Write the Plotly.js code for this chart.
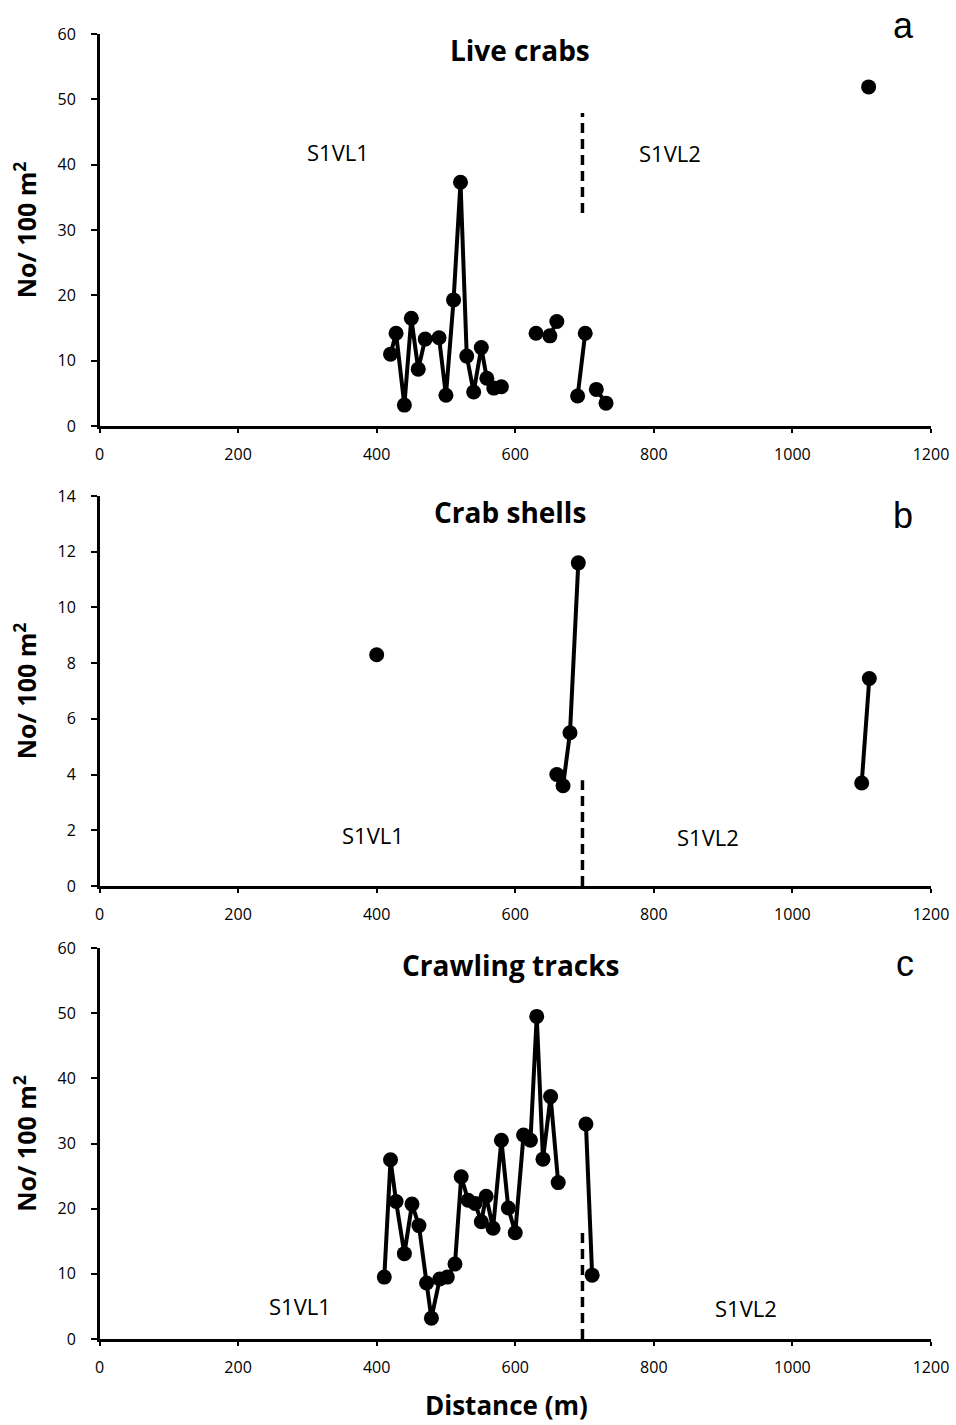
<!DOCTYPE html>
<html>
<head>
<meta charset="utf-8">
<script src="https://cdn.plot.ly/plotly-3.0.1.min.js"></script>
<style>html,body{margin:0;padding:0;background:#fff;}#chart{width:956px;height:1425px;}</style>
</head>
<body>
<div id="chart"></div>
<script>
// ---- Data (distance in m, density No/100 m2) ----
// Panel a: Live crabs (null = gap in line)
const liveX = [420, 428, 440, 450, 460, 470, 490, 500, 511, 521, 530, 540, 551, 559, 569, 580, null, 630, 650, 660, null, 690, 701, null, 717, 731, null, 1110];
const liveY = [11.0, 14.2, 3.2, 16.5, 8.7, 13.3, 13.5, 4.7, 19.3, 37.3, 10.7, 5.2, 12.0, 7.3, 5.8, 6.0, null, 14.2, 13.8, 16.0, null, 4.6, 14.2, null, 5.6, 3.5, null, 51.9];
// Panel b: Crab shells
const shellX = [400, null, 660, 669, 679, 691, null, 1100, 1111];
const shellY = [8.3, null, 4.0, 3.6, 5.5, 11.6, null, 3.7, 7.45];
// Panel c: Crawling tracks
const trackX = [411, 420, 428, 440, 451, 461, 472, 479, 491, 502, 513, 522, 532, 542, 551, 558, 568, 580, 590, 600, 612, 622, 631, 640, 651, 662, null, 702, 711];
const trackY = [9.5, 27.5, 21.1, 13.1, 20.7, 17.4, 8.6, 3.2, 9.2, 9.5, 11.5, 24.9, 21.3, 20.8, 18.0, 21.9, 17.0, 30.5, 20.1, 16.3, 31.3, 30.5, 49.5, 27.6, 37.2, 24.0, null, 33.0, 9.8];

// Site boundary (dashed) per panel: x and y extent
const boundaryX = 697;
const boundaryA = [32.6, 47.9];
const boundaryB = [0, 3.8];
const boundaryC = [0, 16.4];

// Titles / labels
const panelTitles = ["Live crabs", "Crab shells", "Crawling tracks"];
const panelLetters = ["a", "b", "c"];
const siteNames = ["S1VL1", "S1VL2"];
const siteLabelX = [[344, 823], [395, 878], [289, 933]];
const siteLabelY = [[42, 41.8], [1.83, 1.76], [5.1, 4.8]];
const xTitle = "Distance (m)";

const xTicks = [0, 200, 400, 600, 800, 1000, 1200];
const yTicksA = [0, 10, 20, 30, 40, 50, 60];
const yTicksB = [0, 2, 4, 6, 8, 10, 12, 14];
const yTicksC = [0, 10, 20, 30, 40, 50, 60];
const yRanges = [[0, 60], [0, 14], [0, 60]];

// ---- Layout geometry ----
const W = 956, H = 1425;
const FONT = "Open Sans, Noto Sans, sans-serif";
const xDom = [99.5 / W, 931 / W];
const panelsPx = [[34, 426], [496, 886], [948, 1339]];
const yDoms = panelsPx.map(p => [1 - p[1] / H, 1 - p[0] / H]);

const mk = {color: "#000", size: 15};
const ln = {color: "#000", width: 4};

function dataTrace(x, y, ax) {
  return {x: x, y: y, xaxis: "x" + ax, yaxis: "y" + ax, type: "scatter", mode: "lines+markers",
          connectgaps: false, marker: mk, line: ln, hoverinfo: "skip", cliponaxis: false};
}
function dashTrace(yr, ax) {
  return {x: [boundaryX, boundaryX], y: yr, xaxis: "x" + ax, yaxis: "y" + ax, type: "scatter", mode: "lines",
          line: {color: "#000", width: 3.5, dash: "10px,6px"}, hoverinfo: "skip"};
}

const traces = [
  dataTrace(liveX, liveY, ""), dashTrace(boundaryA, ""),
  dataTrace(shellX, shellY, "2"), dashTrace(boundaryB, "2"),
  dataTrace(trackX, trackY, "3"), dashTrace(boundaryC, "3")
];

function xAxis(anchor) {
  return {domain: xDom, anchor: anchor, range: [0, 1200], tickvals: xTicks, ticktext: xTicks.map(String),
    showline: true, linecolor: "#000", linewidth: 2.5, ticks: "outside", ticklen: 4, tickwidth: 2, tickcolor: "#000",
    ticklabelstandoff: 8,
    showgrid: false, zeroline: false, tickfont: {family: FONT, size: 16, color: "#000"}, fixedrange: true};
}
function yAxis(anchor, dom, range, ticks) {
  return {domain: dom, anchor: anchor, range: range, tickvals: ticks, ticktext: ticks.map(String),
    showline: true, linecolor: "#000", linewidth: 2.5, ticks: "outside", ticklen: 6, tickwidth: 2, tickcolor: "#000",
    ticklabelstandoff: 12,
    showgrid: false, zeroline: false, tickfont: {family: FONT, size: 16, color: "#000"}, fixedrange: true,
    title: {text: "<b>No/ 100 m<sup>2</sup></b>", font: {family: FONT, size: 25, color: "#000"}, standoff: 14}};
}

const annotations = [];
const axSuffix = ["", "2", "3"];
const titleY = [50, 512, 965];
const titleX = [520, 510, 510];
const letterPos = [[903, 25], [903, 515], [905, 963]];
for (let i = 0; i < 3; i++) {
  annotations.push({xref: "paper", yref: "paper", x: titleX[i] / W, y: 1 - titleY[i] / H, xanchor: "center", yanchor: "middle",
    text: "<b>" + panelTitles[i] + "</b>", showarrow: false, font: {family: FONT, size: 28, color: "#000"}});
  annotations.push({xref: "paper", yref: "paper", x: letterPos[i][0] / W, y: 1 - letterPos[i][1] / H, xanchor: "center", yanchor: "middle",
    text: panelLetters[i], showarrow: false, font: {family: "Liberation Sans, Arial, sans-serif", size: 36, color: "#000"}});
  for (let j = 0; j < 2; j++) {
    annotations.push({xref: "x" + axSuffix[i], yref: "y" + axSuffix[i], x: siteLabelX[i][j], y: siteLabelY[i][j],
      xanchor: "center", yanchor: "middle", text: siteNames[j], showarrow: false,
      font: {family: FONT, size: 22, color: "#000"}});
  }
}
annotations.push({xref: "paper", yref: "paper", x: 506 / W, y: 1 - 1405 / H, xanchor: "center", yanchor: "middle",
  text: "<b>" + xTitle + "</b>", showarrow: false, font: {family: FONT, size: 26, color: "#000"}});

const layout = {
  width: W, height: H, margin: {l: 0, r: 0, t: 0, b: 0}, paper_bgcolor: "#fff", plot_bgcolor: "#fff",
  showlegend: false,
  xaxis: xAxis("y"), yaxis: yAxis("x", yDoms[0], yRanges[0], yTicksA),
  xaxis2: xAxis("y2"), yaxis2: yAxis("x2", yDoms[1], yRanges[1], yTicksB),
  xaxis3: xAxis("y3"), yaxis3: yAxis("x3", yDoms[2], yRanges[2], yTicksC),
  annotations: annotations
};

Plotly.newPlot("chart", traces, layout, {staticPlot: true, displayModeBar: false});
</script>
</body>
</html>
